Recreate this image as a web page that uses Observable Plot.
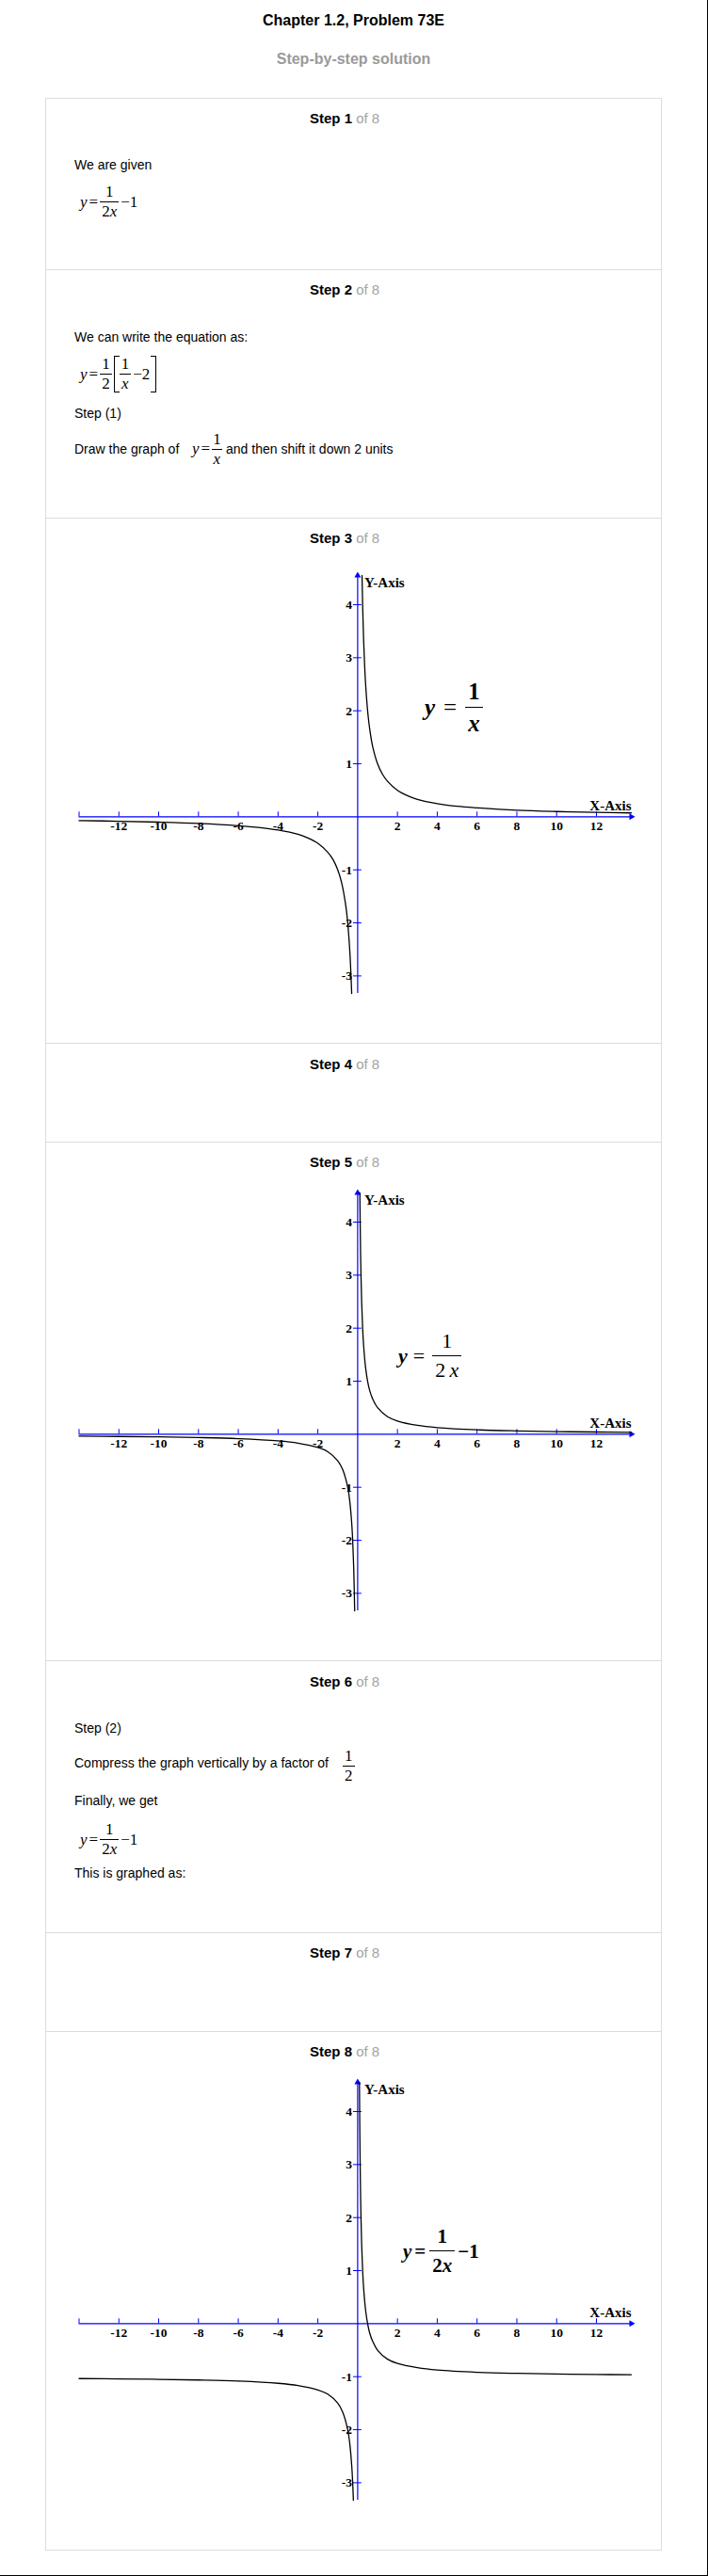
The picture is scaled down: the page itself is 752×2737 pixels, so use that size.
<!DOCTYPE html>
<html><head><meta charset="utf-8">
<script src="https://cdn.jsdelivr.net/npm/d3@7"></script>
<script src="https://cdn.jsdelivr.net/npm/@observablehq/plot@0.6"></script>
<style>
html,body{margin:0;padding:0;background:#fff;}
#page{position:relative;width:752px;height:2737px;box-sizing:border-box;border-right:1px solid #000;border-bottom:1px solid #000;overflow:hidden;font-family:"Liberation Sans",Arial,sans-serif;color:#000;}
.abs{position:absolute;white-space:nowrap;}
.title{left:0;width:751px;text-align:center;font-weight:bold;font-size:16px;line-height:20px;}
.box{position:absolute;left:48px;width:655px;box-sizing:border-box;border:1px solid #dcdcdc;border-bottom:none;}
.box.last{border-bottom:1px solid #dcdcdc;}
.hd{font-weight:bold;font-size:15px;line-height:20px;left:329px}
.hd span{font-weight:normal;color:#a3a3a3}
.tx{font-size:14px;line-height:20px;left:79px}
.eq{display:flex;align-items:center;font-family:"Liberation Serif","Times New Roman",serif;color:#000;z-index:2}
.fr{display:inline-flex;flex-direction:column;align-items:center;}
.fr>.n,.fr>.d{padding:0 2px;text-align:center}
.fr>.d{border-top:1px solid #000}
.i{font-style:italic}
.br{display:inline-block;box-sizing:border-box;width:6px;height:39px;border:1.4px solid #000}
.br.l{border-right:none}.br.r{border-left:none}
.sm{font-size:17px;line-height:20px}
</style></head>
<body>
<div id="page">
  <div class="abs title" style="top:11.7px">Chapter 1.2, Problem 73E</div>
  <div class="abs title" style="top:53.3px;color:#9a9a9a">Step-by-step solution</div>

  <div class="abs hd" style="top:116px">Step 1 <span>of 8</span></div>
  <div class="abs tx" style="top:165px">We are given</div>
  <div class="abs eq sm" style="left:85px;top:194px">
    <span class="i">y</span><span style="margin-left:2px">=</span>
    <span class="fr" style="margin-left:2px"><span class="n">1</span><span class="d">2<span class="i">x</span></span></span>
    <span style="margin-left:2px">−1</span>
  </div>

  <div class="abs hd" style="top:298.3px">Step 2 <span>of 8</span></div>
  <div class="abs tx" style="top:348.3px">We can write the equation as:</div>
  <div class="abs eq sm" style="left:85px;top:377.3px">
    <span class="i">y</span><span style="margin-left:2px">=</span>
    <span class="fr" style="margin-left:2px"><span class="n">1</span><span class="d">2</span></span>
    <span class="br l" style="margin-left:2px"></span>
    <span class="fr"><span class="n">1</span><span class="d"><span class="i">x</span></span></span>
    <span style="margin-left:2px">−2</span>
    <span class="br r" style="margin-left:1px"></span>
  </div>
  <div class="abs tx" style="top:429.3px">Step (1)</div>
  <div class="abs tx" style="top:466.7px">Draw the graph of</div>
  <div class="abs eq sm" style="left:204px;top:456.7px">
    <span class="i">y</span><span style="margin-left:2px">=</span>
    <span class="fr" style="margin-left:1px"><span class="n">1</span><span class="d"><span class="i">x</span></span></span>
  </div>
  <div class="abs tx" style="top:466.7px;left:240px">and then shift it down 2 units</div>

  <div class="abs hd" style="top:562.3px">Step 3 <span>of 8</span></div>
  <div class="abs eq" style="left:451px;top:718px;font-size:25px;line-height:33px;font-weight:bold">
    <span class="i">y</span><span style="margin-left:9px;font-weight:normal">=</span>
    <span class="fr" style="margin-left:9px"><span class="n" style="padding:0 3px">1</span><span class="d" style="padding:0 3px;border-top-width:1.5px"><span class="i">x</span></span></span>
  </div>

  <div class="abs hd" style="top:1120.7px">Step 4 <span>of 8</span></div>

  <div class="abs hd" style="top:1225px">Step 5 <span>of 8</span></div>
  <div class="abs eq" style="left:423px;top:1410px;font-size:22px;line-height:30px">
    <span class="i" style="font-weight:bold">y</span><span style="margin-left:6px">=</span>
    <span class="fr" style="margin-left:8px"><span class="n" style="padding:0 3px">1</span><span class="d" style="padding:0 3px">2&#8201;<span class="i">x</span></span></span>
  </div>

  <div class="abs hd" style="top:1776.7px">Step 6 <span>of 8</span></div>
  <div class="abs tx" style="top:1825.7px">Step (2)</div>
  <div class="abs tx" style="top:1863.3px">Compress the graph vertically by a factor of</div>
  <div class="abs eq sm" style="left:364px;top:1856px">
    <span class="fr"><span class="n">1</span><span class="d">2</span></span>
  </div>
  <div class="abs tx" style="top:1903.3px">Finally, we get</div>
  <div class="abs eq sm" style="left:85px;top:1934.3px">
    <span class="i">y</span><span style="margin-left:2px">=</span>
    <span class="fr" style="margin-left:2px"><span class="n">1</span><span class="d">2<span class="i">x</span></span></span>
    <span style="margin-left:2px">−1</span>
  </div>
  <div class="abs tx" style="top:1980px">This is graphed as:</div>

  <div class="abs hd" style="top:2065px">Step 7 <span>of 8</span></div>

  <div class="abs hd" style="top:2170px">Step 8 <span>of 8</span></div>
  <div class="abs eq" style="left:428px;top:2361px;font-size:21px;line-height:30px;font-weight:bold">
    <span class="i">y</span><span style="margin-left:3px">=</span>
    <span class="fr" style="margin-left:4px"><span class="n" style="padding:0 3px">1</span><span class="d" style="padding:0 3px;border-top-width:1.3px">2<span class="i">x</span></span></span>
    <span style="margin-left:3px">−1</span>
  </div>
</div>
<script>
// ---- axis ticks and labels (shared by all three graphs)
const xTicks = [-14, -12, -10, -8, -6, -4, -2, 2, 4, 6, 8, 10, 12];
const xTickLabels = ["", "-12", "-10", "-8", "-6", "-4", "-2", "2", "4", "6", "8", "10", "12"];
const yTicks = [-3, -2, -1, 1, 2, 3, 4];
const yTickLabels = ["-3", "-2", "-1", "1", "2", "3", "4"];
const xDomain = [-14, 13.75];
const yDomain = [-3.33, 4.55];

// ---- Step 3: y = 1/x
const g3RightX = [0.22, 0.25, 0.3, 0.35, 0.4, 0.5, 0.6, 0.75, 1, 1.25, 1.5, 2, 2.5, 3, 4, 5, 6, 8, 10, 12, 13.75];
const g3RightY = [4.55, 4, 3.33, 2.86, 2.5, 2, 1.67, 1.33, 1, 0.8, 0.67, 0.5, 0.4, 0.33, 0.25, 0.2, 0.17, 0.125, 0.1, 0.083, 0.073];
const g3LeftX = [-14, -12, -10, -8, -6, -5, -4, -3, -2.5, -2, -1.5, -1.25, -1, -0.8, -0.6, -0.5, -0.4, -0.35, -0.3];
const g3LeftY = [-0.071, -0.083, -0.1, -0.125, -0.167, -0.2, -0.25, -0.33, -0.4, -0.5, -0.67, -0.8, -1, -1.25, -1.67, -2, -2.5, -2.86, -3.33];

// ---- Step 5: y = 1/(2x)
const g5RightX = [0.11, 0.125, 0.15, 0.2, 0.25, 0.3, 0.4, 0.5, 0.6, 0.75, 1, 1.5, 2, 3, 4, 6, 8, 10, 12, 13.75];
const g5RightY = [4.55, 4, 3.33, 2.5, 2, 1.67, 1.25, 1, 0.83, 0.67, 0.5, 0.33, 0.25, 0.167, 0.125, 0.083, 0.0625, 0.05, 0.042, 0.036];
const g5LeftX = [-14, -12, -10, -8, -6, -4, -3, -2, -1.5, -1, -0.75, -0.5, -0.4, -0.3, -0.25, -0.2, -0.15];
const g5LeftY = [-0.036, -0.042, -0.05, -0.0625, -0.083, -0.125, -0.167, -0.25, -0.33, -0.5, -0.67, -1, -1.25, -1.67, -2, -2.5, -3.33];

// ---- Step 8: y = 1/(2x) - 1
const g8RightX = [0.09, 0.1, 0.11, 0.125, 0.15, 0.2, 0.25, 0.3, 0.4, 0.5, 0.6, 0.75, 1, 1.5, 2, 3, 4, 6, 8, 10, 12, 13.75];
const g8RightY = [4.55, 4, 3.55, 3, 2.33, 1.5, 1, 0.67, 0.25, 0, -0.17, -0.33, -0.5, -0.67, -0.75, -0.83, -0.875, -0.917, -0.9375, -0.95, -0.958, -0.964];
const g8LeftX = [-14, -12, -10, -8, -6, -4, -3, -2, -1.5, -1, -0.75, -0.5, -0.4, -0.3, -0.25, -0.215];
const g8LeftY = [-1.036, -1.042, -1.05, -1.0625, -1.083, -1.125, -1.167, -1.25, -1.33, -1.5, -1.67, -2, -2.25, -2.67, -3, -3.33];

const page = document.getElementById("page");

// step boxes (layout)
const boxTops = [104.3, 286, 550.3, 1108.3, 1213.3, 1764.3, 2053.3, 2158.3, 2709.3];
for (let i = 0; i < boxTops.length - 1; i++) {
  const b = document.createElement("div");
  b.className = "box" + (i === boxTops.length - 2 ? " last" : "");
  b.style.top = boxTops[i] + "px";
  b.style.height = (boxTops[i + 1] - boxTops[i] + (i === boxTops.length - 2 ? 1 : 0)) + "px";
  page.insertBefore(b, page.firstChild);
}

function graph(top, branches) {
  const pts = [];
  branches.forEach(([xs, ys], k) => xs.forEach((x, i) => pts.push({x, y: ys[i], b: k})));
  const xt = xTicks.map((v, i) => ({v, label: xTickLabels[i]}));
  const blue = "#0000ff";
  const font = {fontWeight: "bold", fill: "#000"};
  const svg = Plot.plot({
    width: 752, height: 480,
    marginLeft: 83.5, marginRight: 82, marginTop: 21, marginBottom: 15,
    x: {domain: xDomain, axis: null},
    y: {domain: yDomain, axis: null},
    style: {background: "transparent", fontFamily: "'Liberation Serif', 'Times New Roman', serif", overflow: "visible"},
    marks: [
      Plot.ruleY([0], {stroke: blue, strokeWidth: 1.2}),
      Plot.ruleX([0], {stroke: blue, strokeWidth: 1.2}),
      Plot.ruleX(xTicks, {x: d => d, y1: 0, y2: 0.09, stroke: blue}),
      Plot.ruleY(yTicks, {y: d => d, x1: -0.21, x2: 0.21, stroke: blue}),
      Plot.dot([xDomain[1]], {x: d => d, y: 0, symbol: "triangle", r: 2.6, fill: blue, rotate: 90}),
      Plot.dot([yDomain[1]], {x: 0, y: d => d, symbol: "triangle", r: 2.6, fill: blue}),
      Plot.line(pts, {x: "x", y: "y", z: "b", curve: "catmull-rom", stroke: "#000", strokeWidth: 1.3}),
      Plot.text(xt, {x: "v", y: 0, text: "label", dy: 10, fontSize: 13.5, ...font}),
      Plot.text(yTicks, {x: 0, y: d => d, text: (d, i) => yTickLabels[i], textAnchor: "end", dx: -6, fontSize: 13.5, ...font}),
      Plot.text(["Y-Axis"], {x: 0, y: yDomain[1], text: d => d, textAnchor: "start", dx: 7, dy: 8, fontSize: 15, ...font}),
      Plot.text(["X-Axis"], {x: xDomain[1], y: 0, text: d => d, textAnchor: "end", dy: -12, fontSize: 15, ...font})
    ]
  });
  svg.style.position = "absolute";
  svg.style.left = "0px";
  svg.style.top = top + "px";
  svg.style.maxWidth = "none";
  svg.style.zIndex = "1";
  page.appendChild(svg);
}

graph(590, [[g3RightX, g3RightY], [g3LeftX, g3LeftY]]);
graph(1245.8, [[g5RightX, g5RightY], [g5LeftX, g5LeftY]]);
graph(2190.8, [[g8RightX, g8RightY], [g8LeftX, g8LeftY]]);
</script>
</body></html>
